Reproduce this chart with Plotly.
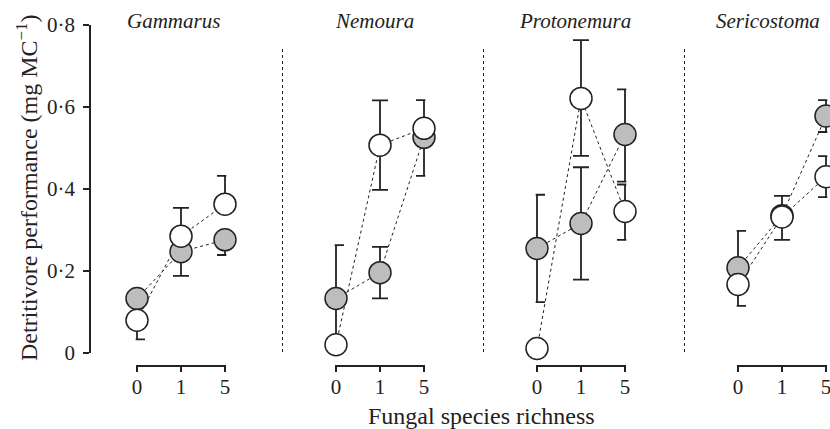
import plotly.graph_objects as go

W, H = 830, 429

# fungal species richness levels (categorical x)
richness = ["0", "1", "5"]
taxa = ["Gammarus", "Nemoura", "Protonemura", "Sericostoma"]

# grey symbols: mean and error bar extents, one row per taxon
grey_mean = [[0.133, 0.247, 0.276], [0.133, 0.196, 0.526],
             [0.255, 0.316, 0.533], [0.208, 0.335, 0.578]]
grey_up = [[0, 0, 0], [0.130, 0.063, 0.091],
           [0.131, 0.137, 0.110], [0.090, 0.048, 0.039]]
grey_down = [[0, 0.059, 0.037], [0.130, 0.063, 0.094],
             [0.131, 0.137, 0.115], [0, 0, 0.039]]

# white symbols
white_mean = [[0.080, 0.285, 0.363], [0.020, 0.507, 0.548],
              [0.011, 0.621, 0.345], [0.167, 0.332, 0.430]]
white_up = [[0, 0.069, 0.069], [0, 0.109, 0],
            [0, 0.142, 0.066], [0, 0, 0.050]]
white_down = [[0.047, 0, 0], [0, 0.109, 0],
              [0, 0.140, 0.069], [0.052, 0.056, 0.050]]

y_ticks = [0, 0.2, 0.4, 0.6, 0.8]
y_ticktext = ["0", "0·2", "0·4", "0·6", "0·8"]


def px(x):
    return x / W


def py(y):
    return 1 - y / H


FONT = "Liberation Serif"
INK = "#222222"
GREY = "#bdbdbd"

panel_left = [137, 336, 537, 738]   # pixel of the "0" tick
step = 44                           # pixels between category ticks
pad = 0.03                          # tiny range padding so edge error bars aren't clipped
title_x = [173, 374.5, 575, 768]
sep_x = [282.5, 483.5, 684.5]

fig = go.Figure()

for i, taxon in enumerate(taxa):
    xa = "x" if i == 0 else "x%d" % (i + 1)
    # dashed connecting lines first so they sit behind the symbols
    for ys in (grey_mean[i], white_mean[i]):
        fig.add_trace(go.Scatter(
            x=richness, y=ys, xaxis=xa, yaxis="y", mode="lines",
            line=dict(color=INK, width=1, dash="3px,3px"),
            hoverinfo="skip", cliponaxis=False
        ))
    for ys, up, down, fill in ((grey_mean[i], grey_up[i], grey_down[i], GREY),
                               (white_mean[i], white_up[i], white_down[i], "white")):
        fig.add_trace(go.Scatter(
            x=richness, y=ys, xaxis=xa, yaxis="y", mode="markers",
            marker=dict(size=22, color=fill, line=dict(color=INK, width=1.5)),
            error_y=dict(type="data", symmetric=False, array=up, arrayminus=down,
                         color=INK, thickness=1.8, width=8),
            cliponaxis=False
        ))

layout = dict(
    width=W, height=H,
    margin=dict(l=0, r=0, t=0, b=0),
    paper_bgcolor="white", plot_bgcolor="white",
    showlegend=False,
    font=dict(family=FONT, size=21, color=INK),
    yaxis=dict(
        domain=[py(353), py(25)], range=[0, 0.8], anchor="free", position=px(90),
        showline=True, linecolor=INK, linewidth=1.5,
        ticks="outside", ticklen=6, tickwidth=1.5, tickcolor=INK,
        tickvals=y_ticks, ticktext=y_ticktext, ticklabelstandoff=4,
        showgrid=False, zeroline=False, automargin=False,
        tickfont=dict(family=FONT, size=21, color=INK)
    ),
)

for i in range(len(taxa)):
    key = "xaxis" if i == 0 else "xaxis%d" % (i + 1)
    x0 = panel_left[i] - pad * step
    x1 = panel_left[i] + (2 + pad) * step
    layout[key] = dict(
        domain=[px(x0), px(x1)],
        type="category", categoryorder="array", categoryarray=richness,
        range=[-pad, 2 + pad], anchor="free", position=py(366),
        showline=True, linecolor=INK, linewidth=1.5,
        ticks="outside", ticklen=5, tickwidth=1.5, tickcolor=INK,
        ticklabelstandoff=-3,
        showgrid=False, zeroline=False, automargin=False,
        tickfont=dict(family=FONT, size=21, color=INK)
    )

fig.update_layout(**layout)

# dotted separators between panels
for sx in sep_x:
    fig.add_shape(type="line", xref="paper", yref="paper",
                  x0=px(sx), x1=px(sx), y0=py(352), y1=py(49),
                  line=dict(color=INK, width=1, dash="dot"))

# panel titles
for i, taxon in enumerate(taxa):
    fig.add_annotation(x=px(title_x[i]), y=py(21), xref="paper", yref="paper",
                       text="<i>%s</i>" % taxon, showarrow=False,
                       xanchor="center", yanchor="middle",
                       font=dict(family=FONT, size=21, color=INK))

fig.add_annotation(x=px(481), y=py(416), xref="paper", yref="paper",
                   text="Fungal species richness", showarrow=False,
                   xanchor="center", yanchor="middle",
                   font=dict(family=FONT, size=24, color=INK))

fig.add_annotation(x=px(27), y=py(188), xref="paper", yref="paper",
                   text="Detritivore performance (mg MC<sup>−1</sup>)",
                   showarrow=False, textangle=-90,
                   xanchor="center", yanchor="middle",
                   font=dict(family=FONT, size=24, color=INK))

# drop the browser's default body margin so the figure sits at the page corner
fig.write_html("out.html", config={"displayModeBar": False},
               post_script="document.body.style.margin='0';")
